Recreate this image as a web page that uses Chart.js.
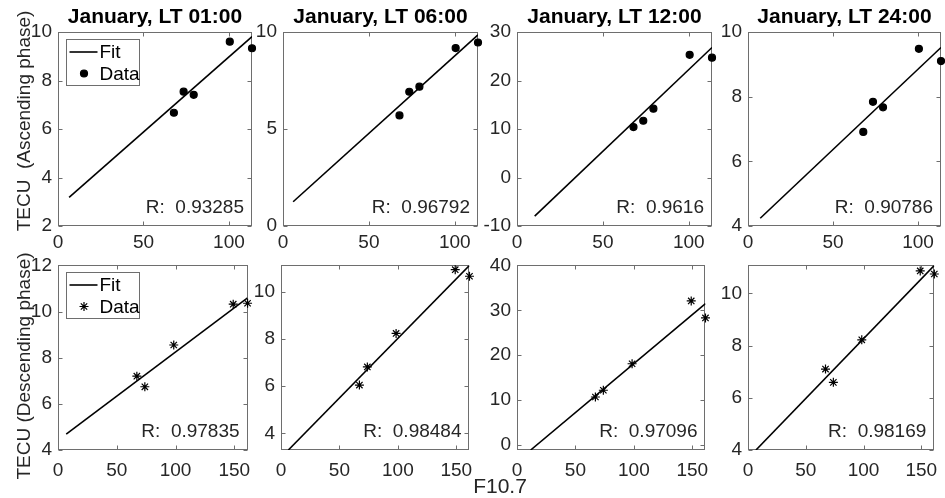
<!DOCTYPE html>
<html>
<head>
<meta charset="utf-8">
<script src="https://cdn.jsdelivr.net/npm/chart.js@4.4.1/dist/chart.umd.min.js"></script>
<style>
  body { margin: 0; background: #fff; width: 945px; height: 498px; position: relative; overflow: hidden; font-family: "Liberation Sans", Arial, sans-serif; }
  canvas { position: absolute; }
  .lbl { position: absolute; font-size: 19px; line-height: 19px; color: #262626; white-space: pre; transform-origin: center; }
  #xlab { font-size: 21px; line-height: 21px; }
</style>
</head>
<body>
<div class="lbl" id="ylabAsc">TECU  (Ascending phase)</div>
<div class="lbl" id="ylabDesc">TECU (Descending phase)</div>
<div class="lbl" id="xlab">F10.7</div>
<script>
// ---- data ----
const localTimes = ['01:00', '06:00', '12:00', '24:00'];
const f107Asc = [67.8, 73.5, 79.4, 100.5, 113.5];
const f107Desc = [67.1, 73.9, 98.5, 149.1, 161.3];

const tecAsc01 = [6.67, 7.54, 7.41, 9.60, 9.33];
const tecAsc06 = [5.70, 6.92, 7.18, 9.17, 9.46];
const tecAsc12 = [10.4, 11.7, 14.2, 25.3, 24.7];
const tecAsc24 = [6.91, 7.84, 7.67, 9.48, 9.10];
const tecDesc01 = [7.20, 6.74, 8.55, 10.32, 10.36];
const tecDesc06 = [6.05, 6.82, 8.24, 10.94, 10.66];
const tecDesc12 = [10.7, 12.2, 18.1, 32.1, 28.3];
const tecDesc24 = [7.10, 6.59, 8.22, 10.86, 10.74];

// fit line end points (F10.7 and TECU)
const fitAscX = [[6.5, 113.5], [5.9, 113.5], [10.3, 113.5], [7.2, 113.5]];
const fitAscY = [[3.18, 9.81], [1.25, 9.85], [-7.96, 26.8], [4.24, 9.52]];
const fitDescX = [[7.0, 161.3], [6.3, 161.3], [11.7, 161.3], [6.9, 161.3]];
const fitDescY = [[4.69, 10.59], [3.3, 11.12], [-1.1, 31.5], [4.0, 11.07]];

const rAsc = ['0.93285', '0.96792', '0.9616', '0.90786'];
const rDesc = ['0.97835', '0.98484', '0.97096', '0.98169'];

const yRangeAsc = [[2, 10], [0, 10], [-10, 30], [4, 10]];
const yRangeDesc = [[4, 12], [3.3, 11.12], [-1.1, 40], [4, 11.07]];
const yTicksAsc = [[2, 4, 6, 8, 10], [0, 5, 10], [-10, 0, 10, 20, 30], [4, 6, 8, 10]];
const yTicksDesc = [[4, 6, 8, 10, 12], [4, 6, 8, 10], [0, 10, 20, 30, 40], [4, 6, 8, 10]];
const xTicksAsc = [0, 50, 100];
const xTicksDesc = [0, 50, 100, 150];
const xMaxAsc = 113.5;
const xMaxDesc = 161.3;

// ---- layout (plot boxes in page pixels) ----
const boxesAsc = [[58, 32, 252, 226], [283, 32, 478, 226], [517, 32, 712, 226], [748, 32, 941, 226]];
const boxesDesc = [[58, 256, 252, 450], [281, 256, 474, 450], [517, 256, 710, 450], [748, 256, 939, 450]];

const FONT = '"Liberation Sans", Arial, sans-serif';
const AXIS_COLOR = '#6e6e6e';
const TEXT_COLOR = '#262626';
const LM = 60, RM = 8, XH = 34;

// box, inside ticks, R text and legend, MATLAB style
const matlabAxes = {
  id: 'matlabAxes',
  beforeDatasetsDraw(chart) {
    const { ctx, chartArea: a, scales } = chart;
    const L = Math.round(a.left) + 0.5, R = Math.round(a.right) - 0.5;
    const T = Math.round(a.top) + 0.5, B = Math.round(a.bottom) - 0.5;
    ctx.save();
    ctx.strokeStyle = AXIS_COLOR;
    ctx.lineWidth = 1;
    ctx.strokeRect(L, T, R - L, B - T);
    ctx.beginPath();
    scales.x.ticks.forEach(t => {
      const px = Math.round(scales.x.getPixelForValue(t.value)) + 0.5;
      ctx.moveTo(px, B); ctx.lineTo(px, B - 4);
      ctx.moveTo(px, T); ctx.lineTo(px, T + 4);
    });
    scales.y.ticks.forEach(t => {
      const py = Math.round(scales.y.getPixelForValue(t.value)) + 0.5;
      ctx.moveTo(L, py); ctx.lineTo(L + 4, py);
      ctx.moveTo(R, py); ctx.lineTo(R - 4, py);
    });
    ctx.stroke();
    ctx.restore();
  },
  afterDraw(chart, args, opts) {
    const { ctx, chartArea: a } = chart;
    ctx.save();
    ctx.font = '19px ' + FONT;
    ctx.fillStyle = TEXT_COLOR;
    ctx.textAlign = 'right';
    ctx.textBaseline = 'middle';
    ctx.fillText('R:  ' + opts.r, a.right - 8, a.bottom - 18);
    if (opts.legend) {
      const lx = Math.round(a.left + 7.5) + 0.5, ly = Math.round(a.top + 7) + 0.5;
      ctx.fillStyle = '#fff';
      ctx.fillRect(lx, ly, 73, 46);
      ctx.strokeStyle = AXIS_COLOR;
      ctx.lineWidth = 1;
      ctx.strokeRect(lx, ly, 73, 46);
      ctx.strokeStyle = '#000';
      ctx.lineWidth = 1.6;
      ctx.beginPath();
      ctx.moveTo(lx + 3, ly + 12.5);
      ctx.lineTo(lx + 31, ly + 12.5);
      ctx.stroke();
      ctx.fillStyle = '#000';
      ctx.lineWidth = 1.2;
      Chart.helpers.drawPoint(ctx, {
        pointStyle: opts.marker, radius: opts.marker === 'star' ? 4.5 : 3.5,
        borderWidth: 1.2
      }, lx + 17.5, ly + 34);
      ctx.fillStyle = '#000';
      ctx.textAlign = 'left';
      ctx.fillText('Fit', lx + 33, ly + 13);
      ctx.fillText('Data', lx + 33, ly + 35);
    }
    ctx.restore();
  }
};

function makePanel(box, opt) {
  const [l, t, r, b] = box;
  const topPad = opt.title ? 32 : 8;
  const cv = document.createElement('canvas');
  const w = (r - l) + LM + RM, h = (b - t) + topPad + XH;
  cv.width = w; cv.height = h;
  cv.style.left = (l - LM) + 'px';
  cv.style.top = (t - topPad) + 'px';
  cv.style.width = w + 'px';
  cv.style.height = h + 'px';
  document.body.appendChild(cv);

  const pts = opt.x.map((v, i) => ({ x: v, y: opt.y[i] }));
  const fit = opt.fitX.map((v, i) => ({ x: v, y: opt.fitY[i] }));
  const tickFont = { family: FONT, size: 19 };

  new Chart(cv, {
    type: 'scatter',
    data: {
      datasets: [
        {
          label: 'Data', data: pts, pointStyle: opt.marker,
          pointRadius: opt.marker === 'star' ? 4.5 : 3.5,
          pointBorderWidth: 1.2,
          backgroundColor: '#000', borderColor: '#000', clip: 10
        },
        {
          label: 'Fit', data: fit, showLine: true, pointRadius: 0,
          borderColor: '#000', borderWidth: 1.6, fill: false
        }
      ]
    },
    options: {
      responsive: false,
      animation: false,
      events: [],
      layout: { padding: { left: 0, right: RM, top: opt.title ? 0 : topPad, bottom: 0 } },
      plugins: {
        legend: { display: false },
        tooltip: { enabled: false },
        title: {
          display: !!opt.title, text: opt.title, fullSize: false,
          color: '#000', font: { family: FONT, size: 21, weight: 'bold', lineHeight: 1.2 },
          padding: { top: 5, bottom: 1.8 }
        },
        matlabAxes: { r: opt.r, legend: opt.legend, marker: opt.marker }
      },
      scales: {
        x: {
          type: 'linear', min: 0, max: opt.xMax,
          afterBuildTicks: s => { s.ticks = opt.xTicks.map(v => ({ value: v })); },
          afterFit: s => { s.height = XH; },
          grid: { display: false, drawTicks: false },
          border: { display: false },
          ticks: { font: tickFont, color: TEXT_COLOR, padding: opt.xPad, autoSkip: false, maxRotation: 0, minRotation: 0 }
        },
        y: {
          type: 'linear', min: opt.yRange[0], max: opt.yRange[1],
          afterBuildTicks: s => { s.ticks = opt.yTicks.map(v => ({ value: v })); },
          afterFit: s => { s.width = LM; },
          grid: { display: false, drawTicks: false },
          border: { display: false },
          ticks: { font: tickFont, color: TEXT_COLOR, padding: 6, autoSkip: false }
        }
      }
    },
    plugins: [matlabAxes]
  });
}

const ascSeries = [tecAsc01, tecAsc06, tecAsc12, tecAsc24];
const descSeries = [tecDesc01, tecDesc06, tecDesc12, tecDesc24];

ascSeries.forEach((ys, i) => {
  makePanel(boxesAsc[i], {
    title: 'January, LT ' + localTimes[i],
    x: f107Asc, y: ys, fitX: fitAscX[i], fitY: fitAscY[i],
    xMax: xMaxAsc, xTicks: xTicksAsc, yRange: yRangeAsc[i], yTicks: yTicksAsc[i],
    r: rAsc[i], legend: i === 0, marker: 'circle', xPad: 5
  });
});
descSeries.forEach((ys, i) => {
  makePanel(boxesDesc[i], {
    title: null,
    x: f107Desc, y: ys, fitX: fitDescX[i], fitY: fitDescY[i],
    xMax: xMaxDesc, xTicks: xTicksDesc, yRange: yRangeDesc[i], yTicks: yTicksDesc[i],
    r: rDesc[i], legend: i === 0, marker: 'star', xPad: 9
  });
});

// axis labels shared by the figure
function placeLabel(id, cx, cy, rot) {
  const el = document.getElementById(id);
  el.style.left = cx + 'px';
  el.style.top = cy + 'px';
  el.style.transform = 'translate(-50%, -50%)' + (rot ? ' rotate(-90deg)' : '');
  el.style.zIndex = 5;
}
placeLabel('ylabAsc', 22.5, 121, true);
placeLabel('ylabDesc', 22.5, 366, true);
placeLabel('xlab', 500, 485, false);
</script>
</body>
</html>
